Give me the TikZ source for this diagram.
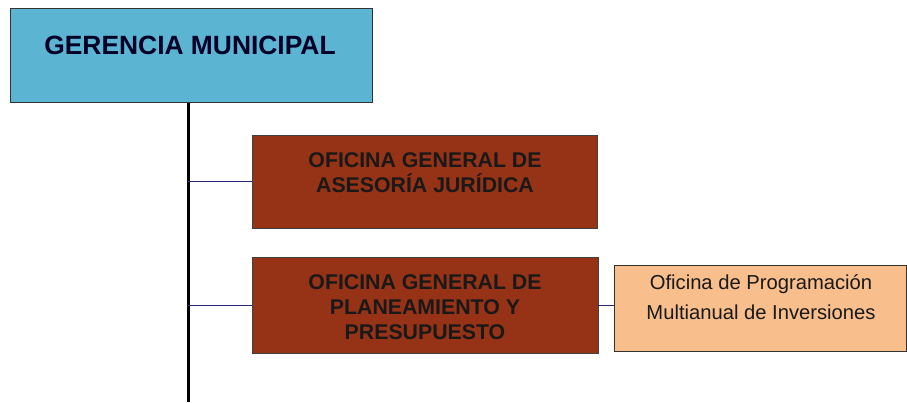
\documentclass[tikz,border=0pt]{standalone}
\usepackage{fontspec}
\setmainfont{Liberation Sans}
\usetikzlibrary{calc}
\definecolor{gmblue}{RGB}{90,180,210}
\definecolor{ofbrown}{RGB}{150,50,22}
\definecolor{ofpeach}{RGB}{248,190,140}
\tikzset{
  gmbox/.style={draw=black!80, line width=1pt, fill=gmblue, inner sep=0pt},
  ofbox/.style={draw=black!75, line width=0.8pt, fill=ofbrown, inner sep=0pt},
  subbox/.style={draw=black!80, line width=0.8pt, fill=ofpeach, inner sep=0pt},
  gmtext/.style={font=\fontsize{26.4}{30}\selectfont\bfseries, text=black!85!blue},
  oftext/.style={font=\fontsize{21.3}{25}\selectfont\bfseries, align=center, text=black!90},
  subtext/.style={font=\fontsize{20.2}{30}\selectfont, align=center, text=black!90},
  trunk/.style={line width=3pt, black},
  branch/.style={line width=0.8pt, color=black!55!blue!70!gray}
}
\begin{document}
\begin{tikzpicture}[x=1pt, y=-1pt]
			%%%%% START %%%%%
			\useasboundingbox (0, 0) rectangle (907, 402);
			
			\node[gmbox, minimum width=362pt, minimum height=94pt] (gm) at (191, 55) {};
			\node[gmtext] (gmlabel) at (190, 45) {GERENCIA MUNICIPAL};
			
			\node[ofbox, minimum width=345pt, minimum height=93pt] (ogaj) at (424.5, 181.5) {};
			\node[oftext] (ogajlabel) at (425, 172.5) {OFICINA GENERAL DE\\ASESORÍA JURÍDICA};
			
			\node[ofbox, minimum width=346pt, minimum height=96pt] (ogpp) at (425, 305) {};
			\node[oftext] (ogpplabel) at (425, 307) {OFICINA GENERAL DE\\PLANEAMIENTO Y\\PRESUPUESTO};
			
			\node[subbox, minimum width=292pt, minimum height=86pt] (opmi) at (760, 308) {};
			\node[subtext] (opmilabel) at (761, 297) {Oficina de Programación\\Multianual de Inversiones};
			
			\coordinate (trunkend) at (188, 402);
			
			\draw[trunk] (trunkend |- gm.south) -- (trunkend);
			\draw[branch] (trunkend |- ogaj.west) -- (ogaj.west);
			\draw[branch] (trunkend |- ogpp.west) -- (ogpp.west);
			\draw[branch] (ogpp.east) -- (ogpp.east -| opmi.west);
			%%%%% END %%%%%
\end{tikzpicture}
\end{document}
